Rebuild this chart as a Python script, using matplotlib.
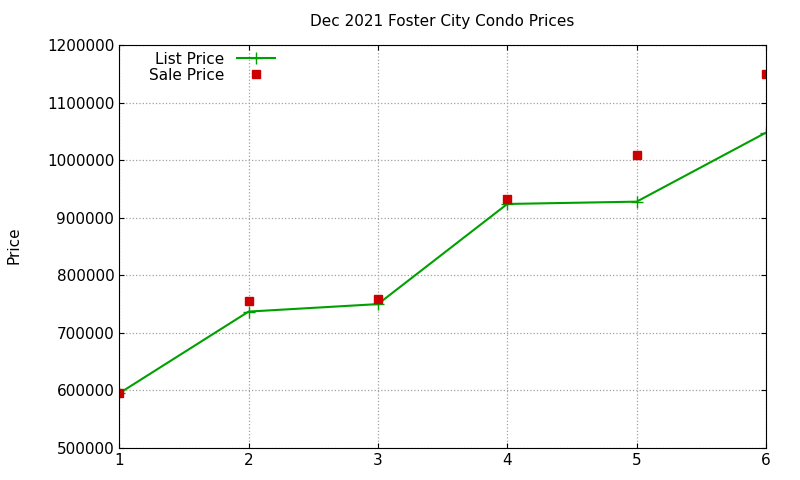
import matplotlib
matplotlib.use("Agg")
import matplotlib.pyplot as plt

months = [1, 2, 3, 4, 5, 6]
list_price = [595000, 737000, 750000, 924000, 928000, 1048000]
sale_price = [595000, 756000, 759000, 932000, 1009000, 1150000]

fig = plt.figure(figsize=(8, 4.8), dpi=100)
ax = fig.add_axes([0.149, 0.0667, 0.8085, 0.8393])

ax.plot(months, list_price, color="#00a000", marker="+", markersize=8,
        linewidth=1.5, label="List Price")
ax.plot(months, sale_price, linestyle="none", marker="s", markersize=6,
        color="#cc0000", label="Sale Price")

ax.set_xlim(1, 6)
ax.set_ylim(500000, 1200000)
ax.set_xticks(months)
ax.set_yticks(range(500000, 1200001, 100000))
ax.ticklabel_format(axis="y", style="plain", useOffset=False)
ax.tick_params(direction="in", labelsize=11, top=True, right=True)
ax.grid(True, color="#a0a0a0", linestyle=":", linewidth=0.9)
fig.text(0.017, 0.49, "Price", rotation=90, fontsize=11,
         ha="center", va="center")
ax.set_title("Dec 2021 Foster City Condo Prices", fontsize=11, pad=14)

ax.legend(loc="upper left", bbox_to_anchor=(0.03, 1.01), frameon=False,
          markerfirst=False, fontsize=11, handlelength=2.5,
          borderpad=0.2, labelspacing=0.05)

fig.savefig("out.png", dpi=100)
